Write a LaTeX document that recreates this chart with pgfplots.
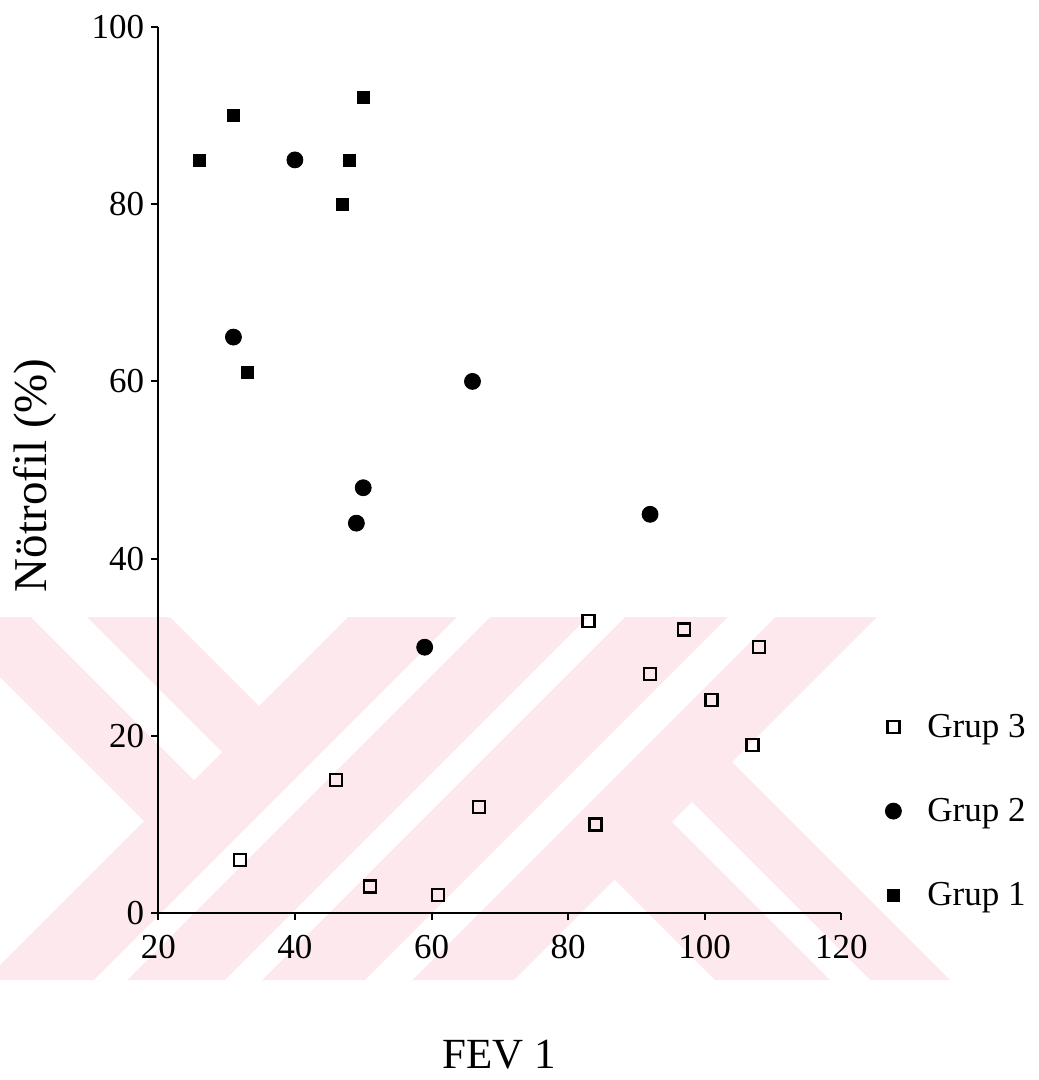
\documentclass[border=0pt]{standalone}
\usepackage{fontspec}
\setmainfont{Liberation Serif}
\usepackage{pgfplots}
\pgfplotsset{compat=1.18}
\definecolor{wmpink}{RGB}{253,233,237}

\begin{document}
\begin{tikzpicture}
\path[use as bounding box] (0,0) rectangle (519pt,-540pt);
% scanned watermark behind the chart, in pixel units
\begin{scope}[x=0.5pt,y=-0.5pt]
  \clip (0,617) rectangle (1038,980);
  \fill[wmpink] (348,617) -- (877,617) -- (514,980) -- (-15,980) -- cycle;
  \fill[wmpink] (-60,617) -- (170,617) -- (259,706) -- (144,821) -- cycle;
  \fill[wmpink] (614.5,879.5) -- (732,762) -- (950,980) -- (715,980) -- cycle;
  \fill[white] (31,617) -- (87,617) -- (222,752) -- (194,780) -- cycle;
  \fill[white] (457,617) -- (490,617) -- (127,980) -- (94,980) -- cycle;
  \fill[white] (588,617) -- (625,617) -- (262,980) -- (225,980) -- cycle;
  \fill[white] (728,617) -- (775,617) -- (412,980) -- (365,980) -- cycle;
  \fill[white] (672,822) -- (692,802) -- (870,980) -- (830,980) -- cycle;
\end{scope}

\begin{axis}[
    at={(79.15pt,-456.5pt)}, anchor=south west,
    scale only axis,
    width=341.5pt, height=443pt,
    xmin=20, xmax=120, ymin=0, ymax=100,
    axis lines=left,
    axis line style={-, line width=1pt},
    tick align=outside,
    major tick length=3.5pt,
    tick style={line width=1pt, black},
    xtick={20,40,...,120},
    ytick={0,20,...,100},
    /pgf/number format/assume math mode=true,
    tick label style={font=\fontsize{17.5}{20}\selectfont},
    xticklabel style={yshift=-4pt},
    clip=false,
    xlabel={FEV 1},
    ylabel={Nötrofil (\%)},
    xlabel style={font=\fontsize{21.5}{26}\selectfont,
        at={(axis description cs:0.4988,-0.175)}, anchor=base},
    ylabel style={font=\fontsize{23.5}{28}\selectfont,
        at={(axis description cs:-0.1644,0.494)}, anchor=base},
    legend style={draw=none, fill=none, inner sep=0pt,
        at={(axis description cs:1.064,0.115)}, anchor=west,
        font=\fontsize{17.5}{20}\selectfont, row sep=25pt, column sep=11pt},
    legend cell align=left,
    reverse legend,
]
% Grup 1
\addplot[only marks, mark=square*, mark size=3pt, black] coordinates {
    (26,85) (31,90) (50,92) (48,85) (47,80) (33,61)
};
\addlegendentry{Grup 1}
% Grup 2
\addplot[only marks, mark=*, mark size=4pt, black] coordinates {
    (40,85) (31,65) (66,60) (50,48) (49,44) (92,45) (59,30)
};
\addlegendentry{Grup 2}
% Grup 3
\addplot[only marks, mark=square, mark size=3pt, black,
    mark options={line width=1.1pt, fill=none}] coordinates {
    (83,33) (97,32) (108,30) (92,27) (101,24) (107,19)
    (46,15) (67,12) (84,10) (32,6) (51,3) (61,2)
};
\addlegendentry{Grup 3}
\end{axis}
\end{tikzpicture}
\end{document}
